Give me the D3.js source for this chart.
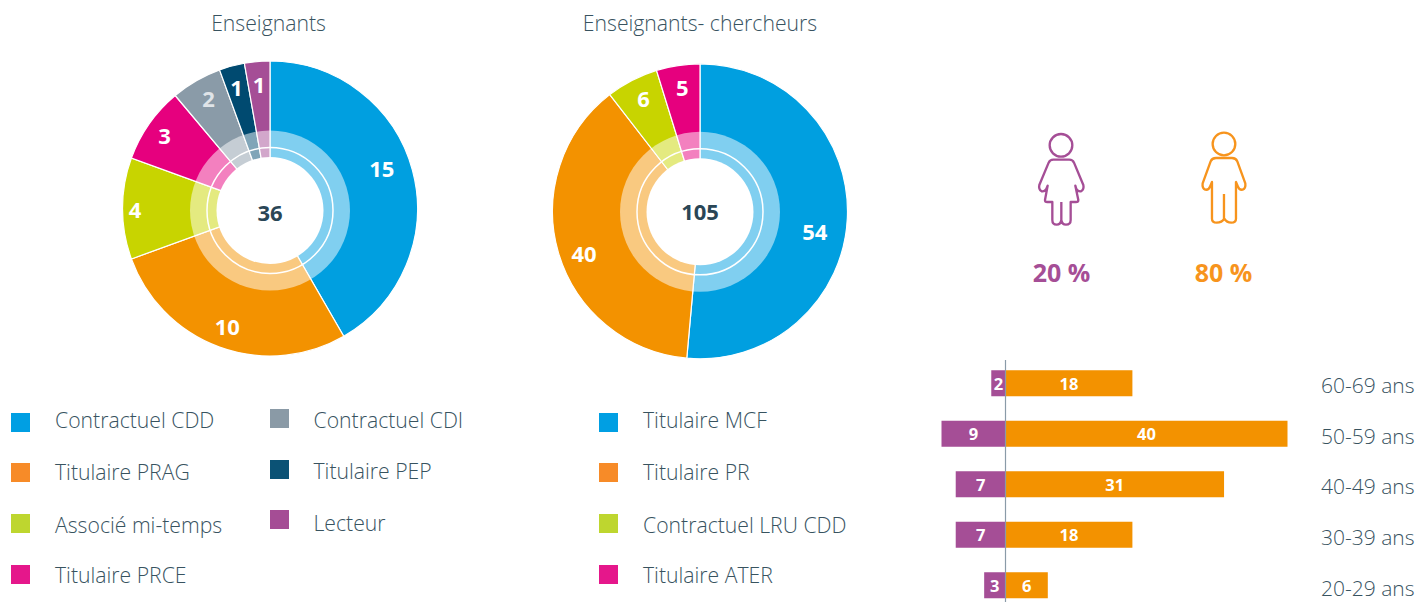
<!DOCTYPE html>
<html><head><meta charset="utf-8">
<script src="https://cdn.jsdelivr.net/npm/d3@7/dist/d3.min.js"></script>
<style>html,body{margin:0;padding:0;background:#fff}svg{display:block}text{font-family:"Open Sans",sans-serif}</style>
</head><body><svg id="c" width="1418" height="602"></svg>
<script>
const teachingLabels=["Contractuel CDD","Titulaire PRAG","Associé mi-temps","Titulaire PRCE","Contractuel CDI","Titulaire PEP","Lecteur"];
const teachingValues=[15,10,4,3,2,1,1];
const researchLabels=["Titulaire MCF","Titulaire PR","Contractuel LRU CDD","Titulaire ATER"];
const researchValues=[54,40,6,5];
const ageGroups=["60-69 ans","50-59 ans","40-49 ans","30-39 ans","20-29 ans"];
const womenByAge=[2,9,7,7,3];
const menByAge=[18,40,31,18,6];
const genderShares=["20 %","80 %"];

const C={blue:"#009fe0",orange:"#f39200",lime:"#c8d400",pink:"#e6007e",gray:"#8a9ba8",navy:"#004a70",purple:"#a54e96",text:"#38535f",dark:"#2a4656"};
const teachingColors=[C.blue,C.orange,C.lime,C.pink,C.gray,C.navy,C.purple];
const researchColors=[C.blue,C.orange,C.lime,C.pink];
const teachingLegend=["#009fe3","#f78b28","#bed62f","#e5178b","#8a9aa6","#0b5275","#a54d95"];
const researchLegend=["#009fe3","#f78b28","#bed62f","#e5178b"];
const svg=d3.select("#c");

function donut(o){
  const g=svg.append("g").attr("transform",`translate(${o.cx},${o.cy})`);
  const pie=d3.pie().sort(null)(o.values);
  const outer=d3.arc().innerRadius(50).outerRadius(147.5);
  const lab=d3.arc().innerRadius(125).outerRadius(125);
  g.selectAll("path.o").data(pie).join("path").attr("class","o").attr("d",outer).attr("fill",(d,i)=>o.colors[i]).attr("stroke","#fff").attr("stroke-width",1.2);
  g.append("circle").attr("cy",o.ringDy).attr("r",80).attr("fill","#fff").attr("fill-opacity",.5);
  g.append("circle").attr("cy",o.ringDy).attr("r",63).attr("fill","none").attr("stroke","#fff").attr("stroke-width",1.5);
  g.append("circle").attr("cy",o.ringDy).attr("r",53.5).attr("fill","#fff");
  g.selectAll("text.l").data(pie).join("text").attr("class","l")
    .attr("x",(d,i)=>lab.centroid(d)[0]+o.nudges[i][0]).attr("y",(d,i)=>lab.centroid(d)[1]+o.nudges[i][1])
    .attr("text-anchor","middle").attr("dominant-baseline","central")
    .attr("fill",(d,i)=>o.labelFill(i)).attr("font-size",22).attr("font-weight",700).text(d=>d.value);
  g.append("text").attr("text-anchor","middle").attr("dominant-baseline","central").attr("y",o.totalDy).attr("fill",o.dark||C.dark).attr("font-size",22).attr("font-weight",700).text(d3.sum(o.values));
  svg.append("text").attr("x",o.titleX).attr("y",31).attr("text-anchor","middle").attr("fill",C.text).attr("font-size",21.2).attr("font-weight",300).text(o.title);
}
donut({cx:270,cy:208.5,ringDy:2,totalDy:3,values:teachingValues,colors:teachingColors,title:"Enseignants",titleX:268.5,
  nudges:[[-9,-8],[0,0],[-10,0],[-3,-2],[1,-2],[-1,-1],[0,0]],labelFill:i=>i===4?"#dfe4e8":"#fff"});
donut({cx:700,cy:211.3,ringDy:0.5,totalDy:0,values:researchValues,colors:researchColors,title:"Enseignants- chercheurs",titleX:700,
  nudges:[[-10,14],[4,7],[1,-2],[1,-1]],labelFill:()=>"#fff"});

function legend(labels,colors,sqX,sqYs,txtX,txtYs){
  labels.forEach((t,i)=>{
    svg.append("rect").attr("x",sqX).attr("y",sqYs[i]).attr("width",19).attr("height",19).attr("fill",colors[i]);
    svg.append("text").attr("x",txtX).attr("y",txtYs[i]).attr("dominant-baseline","central").attr("fill",C.text).attr("font-size",21.2).attr("font-weight",300).text(t);
  });
}
legend(teachingLabels.slice(0,4),teachingLegend.slice(0,4),11,[413,463,514,565],55,[419,471,524,574]);
legend(teachingLabels.slice(4),teachingLegend.slice(4),270,[409,460,510],313.5,[419,470,522]);
legend(researchLabels,researchLegend,599,[413,463,514,565],643,[419,471,524,574]);

const woman="M160,119L208,119Q218,119 222,128L250,195Q253,208 243,214Q235,216 229,207L226,197L235,240Q235,246 228,246L212,246L212,300Q212,314 198,314Q186,314 184,300L184,246M184,300Q182,314 170,314Q157,314 157,300L157,246L142,246Q134,246 135,240L143,197L139,207Q133,216 125,214Q115,208 118,195L146,128Q150,119 160,119";
const man="M648,114L696,114Q708,114 712,124L736,190Q738,205 728,209Q718,211 714,200L708,186L708,296Q708,308 694,308Q680,308 673,296Q666,308 650,308Q636,308 636,296L636,186L630,200Q626,211 616,209Q606,205 608,190L632,124Q636,114 648,114ZM672,222L672,296";
const icons=svg.append("g").attr("transform","translate(1000,120) scale(0.3333)").attr("fill","none").attr("stroke-width",7).attr("stroke-linejoin","round");
icons.append("circle").attr("cx",183).attr("cy",76).attr("r",34).attr("stroke",C.purple);
icons.append("path").attr("d",woman).attr("stroke",C.purple);
icons.append("circle").attr("cx",672).attr("cy",72).attr("r",34).attr("stroke","#f7941d");
icons.append("path").attr("d",man).attr("stroke","#f7941d");
svg.selectAll("text.s").data(genderShares).join("text").attr("class","s")
  .attr("x",(d,i)=>[1061.5,1223.5][i]).attr("y",282).attr("text-anchor","middle")
  .attr("fill",(d,i)=>[C.purple,"#f7941d"][i]).attr("font-size",25).attr("font-weight",700).text(d=>d);

const x=d3.scaleLinear().domain([0,40]).range([1005.5,1287.5]);
const xW=d3.scaleLinear().domain([0,9]).range([1005.5,941.5]);
const y=d3.scaleBand().domain(ageGroups).range([358,610.5]).paddingInner(.485).paddingOuter(.2425);
svg.selectAll("rect.w").data(womenByAge).join("rect").attr("class","w").attr("x",d=>xW(d)).attr("y",(d,i)=>y(ageGroups[i])).attr("width",d=>xW(0)-xW(d)).attr("height",y.bandwidth()).attr("fill",C.purple);
svg.selectAll("rect.m").data(menByAge).join("rect").attr("class","m").attr("x",x(0)).attr("y",(d,i)=>y(ageGroups[i])).attr("width",d=>x(d)-x(0)).attr("height",y.bandwidth()).attr("fill",C.orange);
svg.append("line").attr("x1",x(0)).attr("x2",x(0)).attr("y1",360).attr("y2",602).attr("stroke","#8a9ba8").attr("stroke-width",1.2);
const barLab=(sel,vals,xf)=>sel.data(vals).join("text").attr("x",d=>(xf(d)+xf(0))/2).attr("y",(d,i)=>y(ageGroups[i])+y.bandwidth()/2).attr("text-anchor","middle").attr("dominant-baseline","central").attr("fill","#fff").attr("font-size",16.5).attr("font-weight",700).text(d=>d);
barLab(svg.selectAll("text.bw"),womenByAge,xW);
barLab(svg.selectAll("text.bm"),menByAge,x);
const yL=d3.scalePoint().domain(ageGroups).range([393,595.5]);
svg.selectAll("text.a").data(ageGroups).join("text").attr("class","a").attr("x",1321).attr("y",d=>yL(d)).attr("fill",C.text).attr("font-size",21).attr("font-weight",300).text(d=>d);
</script></body></html>
